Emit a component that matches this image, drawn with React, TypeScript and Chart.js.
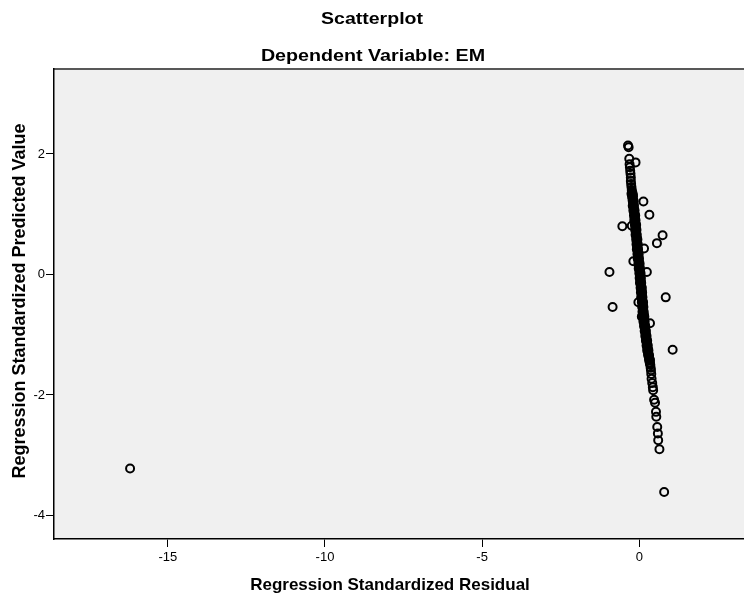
import React, { useEffect, useRef } from "react";
import { Chart, registerables } from "chart.js";
Chart.register(...registerables);

const titleText = "Scatterplot";
const subtitleText = "Dependent Variable: EM";
const xTitleText = "Regression Standardized Residual";
const yTitleText = "Regression Standardized Predicted Value";

const xTicks = [-15, -10, -5, 0];
const yTicks = [-4, -2, 0, 2];
const xRange = [-18.62, 3.33];
const yRange = [-4.39, 3.41];

// isolated cases
const outlierResidual = [
  -16.2, -0.36, -0.34, -0.32, -0.12, 0.13, 0.32, -0.54, -0.24, 0.74, 0.56, 0.15,
  -0.95, 0.84, -0.85, 1.06, 0.79, -0.19, 0.24, -0.03, 0.08, 0.34,
];
const outlierPredicted = [
  -3.22, 2.14, 2.11, 1.92, 1.86, 1.21, 0.99, 0.8, 0.81, 0.65, 0.52, 0.43,
  0.04, -0.38, -0.54, -1.25, -3.61, 0.22, 0.04, -0.46, -0.7, -0.81,
];

// upper part of the band
const upperResidual = [-0.31, -0.3, -0.29, -0.28, -0.27, -0.27, -0.26, -0.25, -0.24, -0.23];
const upperPredicted = [1.83, 1.78, 1.72, 1.67, 1.61, 1.55, 1.5, 1.45, 1.4, 1.37];

// dense band
const bandResidual = [
  -0.25, -0.21, -0.23, -0.2, -0.22, -0.21, -0.18, -0.19, -0.21, -0.17, -0.18,
  -0.19, -0.15, -0.16, -0.17, -0.13, -0.15, -0.16, -0.12, -0.13, -0.14, -0.1,
  -0.12, -0.13, -0.09, -0.11, -0.12, -0.08, -0.09, -0.1, -0.06, -0.08, -0.09,
  -0.05, -0.06, -0.08, -0.04, -0.05, -0.06, -0.02, -0.03, -0.05, -0.01, -0.02,
  -0.03, 0.01, 0.0, -0.02, 0.02, 0.01, 0.0, 0.04, 0.03, 0.01, 0.05, 0.04,
  0.02, 0.06, 0.05, 0.04, 0.08, 0.07, 0.05, 0.09, 0.08, 0.06, 0.1, 0.09,
  0.08, 0.12, 0.11, 0.09, 0.13, 0.12, 0.1, 0.14, 0.14, 0.12, 0.16, 0.15,
  0.13, 0.17, 0.16, 0.15, 0.19, 0.18, 0.17, 0.21, 0.2, 0.19, 0.23, 0.22,
  0.21, 0.25, 0.24, 0.23, 0.27, 0.26, 0.25, 0.29, 0.28, 0.28, 0.31, 0.31,
  0.31, 0.34, 0.33, 0.35,
];
const bandPredicted = [
  1.34, 1.34, 1.3, 1.3, 1.26, 1.22, 1.22, 1.18, 1.14, 1.14, 1.1,
  1.06, 1.06, 1.02, 0.98, 0.98, 0.94, 0.9, 0.9, 0.86, 0.82, 0.82,
  0.78, 0.74, 0.74, 0.7, 0.66, 0.66, 0.62, 0.58, 0.58, 0.54, 0.5,
  0.5, 0.46, 0.42, 0.42, 0.38, 0.34, 0.34, 0.3, 0.26, 0.26, 0.22,
  0.18, 0.18, 0.14, 0.1, 0.1, 0.06, 0.02, 0.02, -0.02, -0.06, -0.06, -0.1,
  -0.14, -0.14, -0.18, -0.22, -0.22, -0.26, -0.3, -0.3, -0.34, -0.38, -0.38, -0.42,
  -0.46, -0.46, -0.5, -0.54, -0.54, -0.58, -0.62, -0.62, -0.66, -0.7, -0.7, -0.74,
  -0.78, -0.78, -0.82, -0.86, -0.86, -0.9, -0.94, -0.94, -0.98, -1.02, -1.02, -1.06,
  -1.1, -1.1, -1.14, -1.18, -1.18, -1.22, -1.26, -1.26, -1.3, -1.34, -1.34, -1.38,
  -1.42, -1.42, -1.46, -1.5,
];

// more cases inside the band
const bandExtraResidual = [
  -0.22, -0.2, -0.19, -0.17, -0.15, -0.14, -0.12, -0.11, -0.1, -0.08, -0.07, -0.06,
  -0.04, -0.03, -0.01, 0.0, 0.02, 0.03, 0.04, 0.06, 0.07, 0.08, 0.1, 0.11,
  0.12, 0.14, 0.15, 0.17, 0.19, 0.21, 0.23, 0.25, 0.27, 0.29, 0.32, 0.34,
];
const bandExtraPredicted = [
  1.32, 1.24, 1.16, 1.08, 1.0, 0.92, 0.84, 0.76, 0.68, 0.6, 0.52, 0.44,
  0.36, 0.28, 0.2, 0.12, 0.04, -0.04, -0.12, -0.2, -0.28, -0.36, -0.44, -0.52,
  -0.6, -0.68, -0.76, -0.84, -0.92, -1.0, -1.08, -1.16, -1.24, -1.32, -1.4, -1.48,
];

// lower tail of the band
const lowerResidual = [0.36, 0.37, 0.38, 0.39, 0.41, 0.43, 0.44, 0.47, 0.5, 0.53, 0.54, 0.57, 0.59, 0.6, 0.64];
const lowerPredicted = [-1.55, -1.59, -1.65, -1.73, -1.8, -1.87, -1.92, -2.08, -2.13, -2.28, -2.36, -2.53, -2.64, -2.75, -2.9];

const FONT = "'Liberation Sans', Arial, Helvetica, sans-serif";

function drawStretched(ctx: CanvasRenderingContext2D, text: string, cx: number, baseline: number, font: string, sx: number) {
  ctx.save();
  ctx.font = font;
  ctx.textAlign = "center";
  ctx.textBaseline = "alphabetic";
  ctx.translate(cx, baseline);
  ctx.scale(sx, 1);
  ctx.fillText(text, 0, 0);
  ctx.restore();
}

const decor = {
  id: "decor",
  beforeDraw(chart: any) {
    const { ctx, chartArea: a } = chart;
    ctx.save();
    ctx.fillStyle = "#f0f0f0";
    ctx.fillRect(a.left, a.top, a.right - a.left, a.bottom - a.top);
    ctx.fillStyle = "#585858";
    ctx.fillRect(a.left, a.top - 1, a.right - a.left, 2);
    ctx.restore();
  },
  afterDraw(chart: any) {
    const ctx: CanvasRenderingContext2D = chart.ctx;
    ctx.save();
    ctx.fillStyle = "#000";
    drawStretched(ctx, titleText, 372, 24, `bold 16px ${FONT}`, 1.22);
    drawStretched(ctx, subtitleText, 373, 61, `bold 16px ${FONT}`, 1.23);
    drawStretched(ctx, xTitleText, 390, 590, `bold 17px ${FONT}`, 1.0);
    ctx.save();
    ctx.translate(25, 301);
    ctx.rotate(-Math.PI / 2);
    ctx.font = `bold 18px ${FONT}`;
    ctx.textAlign = "center";
    ctx.textBaseline = "alphabetic";
    ctx.fillText(yTitleText, 0, 0);
    ctx.restore();
    ctx.restore();
  },
};

export default function App() {
  const ref = useRef<HTMLCanvasElement>(null);
  useEffect(() => {
    if (!ref.current) return;
    const xs = [...outlierResidual, ...upperResidual, ...bandResidual, ...bandExtraResidual, ...lowerResidual];
    const ys = [...outlierPredicted, ...upperPredicted, ...bandPredicted, ...bandExtraPredicted, ...lowerPredicted];
    const data = xs.map((x, i) => ({ x, y: ys[i] }));
    const chart = new Chart(ref.current, {
      type: "scatter",
      data: {
        datasets: [
          {
            data,
            pointRadius: 4,
            pointHoverRadius: 4,
            pointBorderWidth: 2,
            pointBorderColor: "#000",
            pointBackgroundColor: "rgba(0,0,0,0)",
          },
        ],
      },
      options: {
        animation: false,
        responsive: false,
        devicePixelRatio: 1,
        layout: { autoPadding: false, padding: { top: 69, right: 0, left: 0, bottom: 0 } },
        plugins: { legend: { display: false }, tooltip: { enabled: false }, title: { display: false } },
        scales: {
          x: {
            type: "linear",
            min: xRange[0],
            max: xRange[1],
            afterBuildTicks: (s: any) => {
              s.ticks = xTicks.map((v) => ({ value: v }));
            },
            afterFit: (s: any) => {
              s.height = 58;
              s.paddingLeft = 0;
              s.paddingRight = 0;
            },
            grid: { drawOnChartArea: false, drawTicks: true, tickLength: 8, color: "#000", lineWidth: 1 },
            border: { display: true, color: "#000", width: 1.5 },
            ticks: { color: "#000", font: { family: FONT, size: 13 }, padding: 3, maxRotation: 0 },
          },
          y: {
            type: "linear",
            min: yRange[0],
            max: yRange[1],
            afterBuildTicks: (s: any) => {
              s.ticks = yTicks.map((v) => ({ value: v }));
            },
            afterFit: (s: any) => {
              s.width = 54;
              s.paddingTop = 0;
              s.paddingBottom = 0;
            },
            grid: { drawOnChartArea: false, drawTicks: true, tickLength: 8, color: "#000", lineWidth: 1 },
            border: { display: true, color: "#000", width: 1.5 },
            ticks: { color: "#000", font: { family: FONT, size: 13 }, padding: 1 },
          },
        },
      },
      plugins: [decor],
    });
    return () => chart.destroy();
  }, []);
  return (
    <div style={{ position: "absolute", left: 0, top: 0, width: 744, height: 597, background: "#fff" }}>
      <canvas ref={ref} width={744} height={597} style={{ display: "block" }} />
    </div>
  );
}
